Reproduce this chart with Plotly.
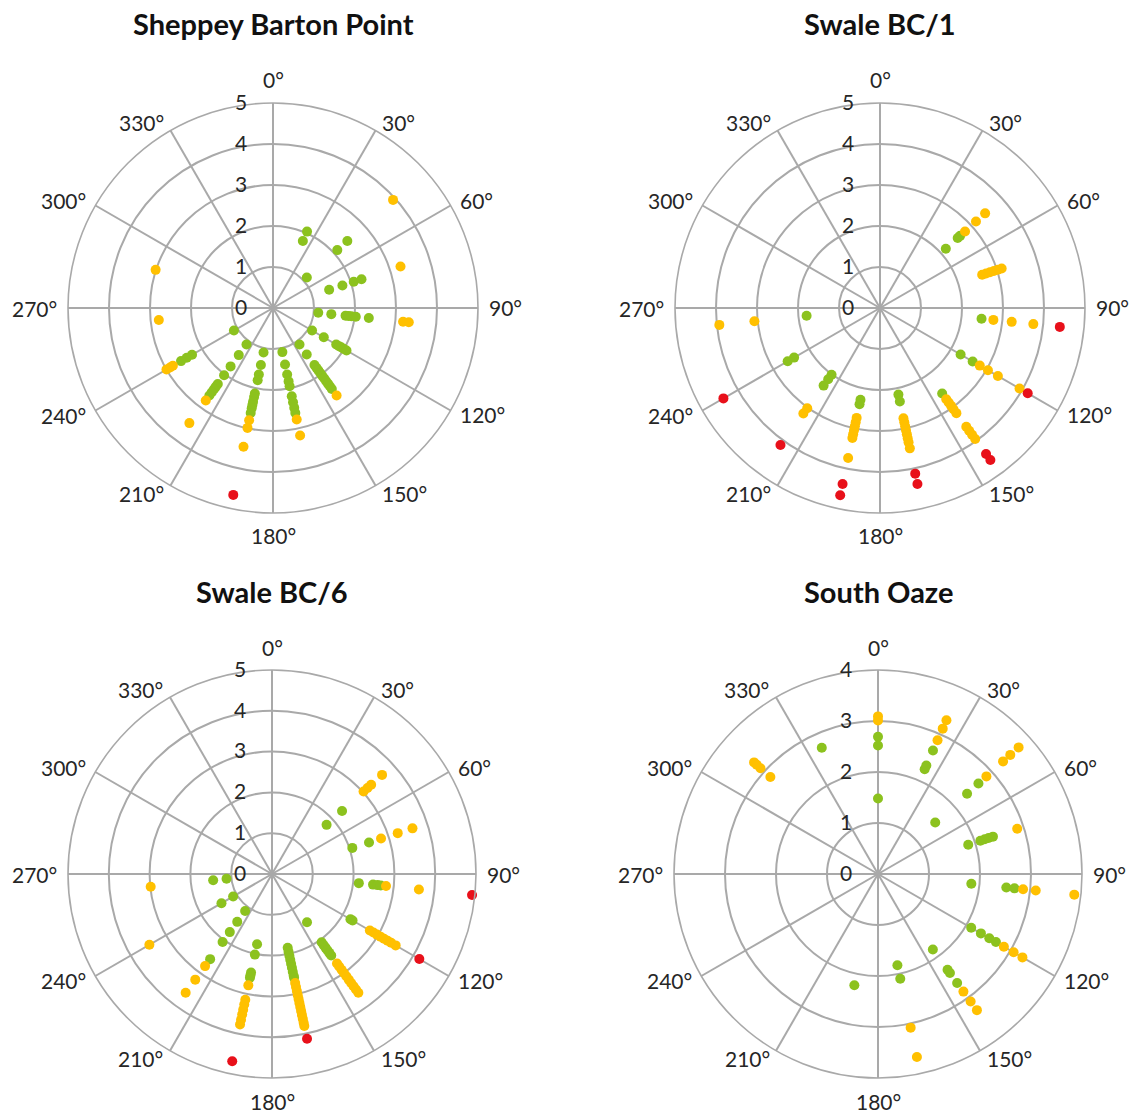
import math
import plotly.graph_objects as go

# ---- data: direction (deg, clockwise from north), magnitude, and class per point ----
# class: "g" = low, "y" = moderate, "r" = high

SBP_THETA = (
    [24] * 2 + [48] * 4 + [72] * 5 + [96] * 9 + [120] * 7 + [144] * 13
    + [168] * 11 + [192] * 14 + [216] * 11 + [240] * 7 + [264] + [288]
)
SBP_R = [
    1.79, 2.04,
    1.11, 2.11, 2.44, 3.94,
    1.44, 1.78, 2.07, 2.27, 3.27,
    1.11, 1.43, 1.78, 1.85, 1.92, 2.03, 2.35, 3.19, 3.33,
    1.10, 1.43, 1.78, 1.86, 1.93, 2.00, 2.07,
    1.10, 1.40, 1.72, 1.80, 1.88, 1.96, 2.04, 2.12, 2.20, 2.28, 2.36, 2.44, 2.64,
    1.10, 1.41, 1.66, 1.83, 1.95, 2.20, 2.35, 2.49, 2.62, 2.78, 3.18,
    1.11, 1.42, 1.66, 1.80, 2.13, 2.22, 2.34, 2.42, 2.50, 2.62, 2.80, 2.99, 3.46, 4.66,
    1.10, 1.42, 1.76, 2.03, 2.29, 2.37, 2.45, 2.54, 2.64, 2.79, 3.47,
    1.10, 2.28, 2.43, 2.59, 2.82, 2.90, 3.00,
    2.80,
    3.01,
]
SBP_CLASS = (
    "gg" + "gggy" + "ggggy" + "gggggggyy" + "ggggggg" + "g" * 12 + "y"
    + "g" * 9 + "yy" + "g" * 10 + "yyyr" + "g" * 9 + "yy" + "ggggyyy" + "y" + "y"
)

BC1_THETA = (
    [48] * 6 + [72] * 6 + [96] * 5 + [120] * 7 + [144] * 12 + [168] * 12
    + [192] * 11 + [216] * 6 + [240] * 3 + [264] * 3
)
BC1_R = [
    2.16, 2.55, 2.63, 2.79, 3.15, 3.45,
    2.62, 2.72, 2.82, 2.92, 3.02, 3.12,
    2.49, 2.78, 3.23, 3.76, 4.41,
    2.27, 2.61, 2.81, 3.04, 3.32, 3.93, 4.16,
    2.58, 2.75, 2.85, 2.95, 3.05, 3.17, 3.58, 3.70, 3.82, 3.95, 4.40, 4.58,
    2.16, 2.33, 2.75, 2.85, 2.95, 3.05, 3.15, 3.25, 3.35, 3.50, 4.13, 4.39,
    2.29, 2.40, 2.74, 2.85, 2.95, 3.05, 3.15, 3.24, 3.74, 4.39, 4.67,
    2.01, 2.15, 2.34, 3.02, 3.18, 4.13,
    2.42, 2.60, 4.41,
    1.80, 3.08, 3.94,
]
BC1_CLASS = (
    "gggyyy" + "yyyyyy" + "gyyyr" + "ggyyyyr" + "g" + "y" * 9 + "rr"
    + "gg" + "y" * 8 + "rr" + "gg" + "y" * 7 + "rr" + "gggyyr" + "ggr" + "gyy"
)

BC6_THETA = (
    [48] * 6 + [72] * 5 + [96] * 7 + [120] * 11 + [144] * 17 + [168] * 22
    + [192] * 13 + [216] * 8 + [240] * 3 + [264] * 3
)
BC6_R = [
    1.80, 2.31, 3.02, 3.15, 3.27, 3.63,
    2.07, 2.50, 2.81, 3.24, 3.62,
    2.14, 2.49, 2.60, 2.68, 2.81, 3.62, 4.93,
    2.22, 2.28, 2.77, 2.87, 2.97, 3.07, 3.17, 3.27, 3.37, 3.50, 4.17,
    1.46, 2.07, 2.15, 2.23, 2.31, 2.39, 2.47,
    2.71, 2.80, 2.90, 3.00, 3.10, 3.20, 3.30, 3.40, 3.50, 3.60,
    1.85, 1.95, 2.05, 2.15, 2.25, 2.35, 2.45, 2.55, 2.60,
    2.73, 2.83, 2.93, 3.03, 3.13, 3.23, 3.33, 3.43, 3.53, 3.63, 3.73, 3.81, 4.13,
    1.76, 2.02, 2.47, 2.54, 2.60, 2.79, 3.15, 3.27, 3.40, 3.52, 3.65, 3.77, 4.69,
    1.12, 1.45, 1.76, 2.06, 2.58, 2.79, 3.20, 3.60,
    1.10, 1.43, 3.47,
    1.12, 1.45, 2.99,
]
BC6_CLASS = (
    "ggyyyy" + "ggyyy" + "ggggyyr" + "gg" + "y" * 8 + "r" + "g" * 7 + "y" * 10
    + "g" * 9 + "y" * 12 + "r" + "g" * 5 + "y" * 7 + "r" + "gggggyyy" + "ggy" + "ggy"
)

SO_THETA = (
    [0] * 5 + [24] * 6 + [48] * 8 + [72] * 6 + [96] * 6 + [120] * 7 + [144] * 7
    + [168] * 4 + [192] + [312] * 4 + [336]
)
SO_R = [
    1.48, 2.52, 2.69, 3.01, 3.09,
    2.25, 2.33, 2.65, 2.87, 3.12, 3.30,
    1.51, 2.35, 2.65, 2.86, 3.30, 3.49, 3.71, 4.02,
    1.86, 2.11, 2.20, 2.28, 2.37, 2.87,
    1.84, 2.53, 2.69, 2.86, 3.11, 3.87,
    2.11, 2.33, 2.52, 2.67, 2.85, 3.07, 3.27,
    1.83, 2.32, 2.40, 2.64, 2.85, 3.09, 3.30,
    1.83, 2.10, 3.08, 3.67,
    2.23,
    2.84, 3.10, 3.20, 3.27,
    2.71,
]
SO_CLASS = (
    "gggyy" + "gggyyy" + "gggyyyyy" + "gggggy" + "gggyyy" + "ggggyyy" + "ggggyyy"
    + "ggyy" + "g" + "yyyy" + "g"
)

PANELS = [
    ("Sheppey Barton Point", SBP_THETA, SBP_R, SBP_CLASS, 5),
    ("Swale BC/1", BC1_THETA, BC1_R, BC1_CLASS, 5),
    ("Swale BC/6", BC6_THETA, BC6_R, BC6_CLASS, 5),
    ("South Oaze", SO_THETA, SO_R, SO_CLASS, 4),
]

ANGLE_TICKS = list(range(0, 360, 30))
ANGLE_LABELS = [f"{a}°" for a in ANGLE_TICKS]

# ---- styling ----
W, H = 1135, 1115
COLORS = {"g": "#8CC21E", "y": "#FFC000", "r": "#E8101A"}
GRID = "#A9A9A9"
FONT = "Lato"
TICK_FONT = dict(family=FONT, size=21, color="#262626")

# panel centres and radii in pixels (left-right, top-bottom)
CENTERS = [(273, 308), (880, 308), (272, 874), (878, 874)]
RADII = [205, 205, 204, 204]
TITLE_Y = [24, 24, 591, 591]
LABEL_GAP = 9        # gap between the outer ring and the direction labels
POLE_EXTRA = 14      # extra distance for the labels at 0° and 180°

fig = go.Figure()
layout_polars = {}
annotations = []

for i, (name, theta, r, cls, rmax) in enumerate(PANELS):
    key = "polar" if i == 0 else f"polar{i + 1}"
    cx, cy = CENTERS[i]
    rad = RADII[i]
    layout_polars[key] = dict(
        domain=dict(
            x=[(cx - rad) / W, (cx + rad) / W],
            y=[1 - (cy + rad) / H, 1 - (cy - rad) / H],
        ),
        bgcolor="white",
        angularaxis=dict(
            rotation=90,
            direction="clockwise",
            tickmode="array",
            tickvals=ANGLE_TICKS,
            showticklabels=False,
            ticks="",
            showgrid=True,
            gridcolor=GRID,
            gridwidth=1.6,
            showline=True,
            linecolor=GRID,
            linewidth=1.6,
        ),
        radialaxis=dict(
            range=[0, rmax],
            tickmode="array",
            tickvals=list(range(0, rmax + 1)),
            angle=90,
            side="counterclockwise",
            showline=False,
            showgrid=True,
            gridcolor=GRID,
            gridwidth=1.6,
            ticks="outside",
            ticklen=18,
            tickcolor="rgba(0,0,0,0)",
            tickangle=90,
            tickfont=TICK_FONT,
        ),
    )

    # panel title
    annotations.append(
        dict(
            text=f"<b>{name}</b>",
            x=cx / W,
            y=1 - TITLE_Y[i] / H,
            xref="paper",
            yref="paper",
            xanchor="center",
            yanchor="middle",
            showarrow=False,
            font=dict(family=FONT, size=29, color="#111111"),
        )
    )

    # direction labels around the outer ring
    for ang, lab in zip(ANGLE_TICKS, ANGLE_LABELS):
        s, c = math.sin(math.radians(ang)), math.cos(math.radians(ang))
        d = rad + LABEL_GAP
        if abs(s) < 0.1:
            d += POLE_EXTRA
            xanchor = "center"
        else:
            xanchor = "left" if s > 0 else "right"
        px, py = cx + d * s, cy - d * c
        annotations.append(
            dict(
                text=lab,
                x=px / W,
                y=1 - py / H,
                xref="paper",
                yref="paper",
                xanchor=xanchor,
                yanchor="middle",
                showarrow=False,
                font=TICK_FONT,
            )
        )

    sub = "polar" if i == 0 else f"polar{i + 1}"
    for cl in ["g", "y", "r"]:
        th = [t for t, k in zip(theta, cls) if k == cl]
        rr = [v for v, k in zip(r, cls) if k == cl]
        if not th:
            continue
        fig.add_trace(
            go.Scatterpolar(
                theta=th,
                r=rr,
                mode="markers",
                subplot=sub,
                cliponaxis=False,
                marker=dict(size=10, color=COLORS[cl], line=dict(width=0)),
                showlegend=False,
                hoverinfo="skip",
            )
        )

fig.update_layout(
    width=W,
    height=H,
    margin=dict(l=0, r=0, t=0, b=0),
    paper_bgcolor="white",
    plot_bgcolor="white",
    annotations=annotations,
    **layout_polars,
)

fig.write_html("out.html")
